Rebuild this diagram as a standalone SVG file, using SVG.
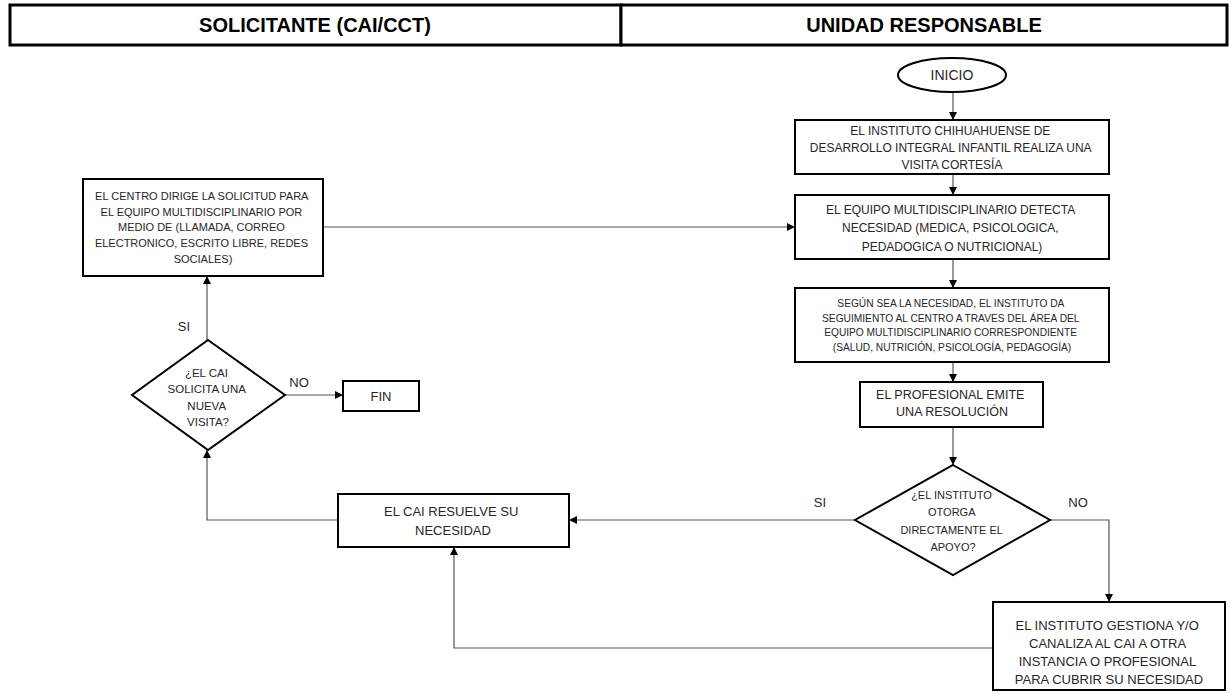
<svg xmlns="http://www.w3.org/2000/svg" width="1231" height="694" viewBox="0 0 1231 694">
  <defs>
    <marker id="arrow" viewBox="0 0 10 10" refX="10" refY="5" markerWidth="8" markerHeight="8" markerUnits="userSpaceOnUse" orient="auto">
      <path d="M0,0 L10,5 L0,10 z" fill="#000"/>
    </marker>
    <style>
      .lane { fill: #fff; stroke: #000; stroke-width: 3; }
      .lane-title { font-family: "Liberation Sans", Arial, sans-serif; font-weight: bold; font-size: 20px; fill: #000; text-anchor: middle; }
      .box { fill: #fff; stroke: #000; stroke-width: 2; }
      .txt { font-family: "Liberation Sans", Arial, sans-serif; fill: #262626; text-anchor: middle; }
      .edge { fill: none; stroke: #555; stroke-width: 1.2; }
      .lbl { font-family: "Liberation Sans", Arial, sans-serif; font-size: 13px; fill: #262626; text-anchor: middle; }
    </style>
  </defs>
  <rect width="1231" height="694" fill="#fff"/>

  <!-- swimlane headers -->
  <g id="lane-solicitante">
    <rect class="lane" x="10" y="5" width="611" height="40"/>
    <text class="lane-title" x="315" y="32">SOLICITANTE (CAI/CCT)</text>
  </g>
  <g id="lane-unidad">
    <rect class="lane" x="621" y="5" width="606" height="40"/>
    <text class="lane-title" x="924" y="32">UNIDAD RESPONSABLE</text>
  </g>

  <!-- connectors -->
  <g id="connectors">
    <path class="edge" d="M953,92 V120" marker-end="url(#arrow)"/>
    <path class="edge" d="M953,174 V195" marker-end="url(#arrow)"/>
    <path class="edge" d="M953,259 V288" marker-end="url(#arrow)"/>
    <path class="edge" d="M953,362 V382" marker-end="url(#arrow)"/>
    <path class="edge" d="M953,427 V465" marker-end="url(#arrow)"/>
    <path class="edge" d="M855,520 H569" marker-end="url(#arrow)"/>
    <path class="edge" d="M1050,520 H1109 V602" marker-end="url(#arrow)"/>
    <path class="edge" d="M993,648 H454 V547" marker-end="url(#arrow)"/>
    <path class="edge" d="M338,520 H207 V450" marker-end="url(#arrow)"/>
    <path class="edge" d="M207,340 V276" marker-end="url(#arrow)"/>
    <path class="edge" d="M285,395 H343" marker-end="url(#arrow)"/>
    <path class="edge" d="M323,227 H795" marker-end="url(#arrow)"/>
    <text class="lbl" x="820" y="507">SI</text>
    <text class="lbl" x="1078" y="507">NO</text>
    <text class="lbl" x="184" y="331">SI</text>
    <text class="lbl" x="299" y="387">NO</text>
  </g>

  <!-- nodes -->
  <g id="inicio">
    <ellipse class="box" cx="952" cy="75" rx="54" ry="17"/>
    <text class="txt" x="952" y="80" font-size="14">INICIO</text>
  </g>

  <g id="visita-cortesia">
    <rect class="box" x="795" y="120" width="314" height="54"/>
    <text class="txt" font-size="12">
      <tspan x="952" y="135">EL INSTITUTO CHIHUAHUENSE DE</tspan>
      <tspan x="952" y="152">DESARROLLO INTEGRAL INFANTIL REALIZA UNA</tspan>
      <tspan x="952" y="169">VISITA CORTESÍA</tspan>
    </text>
  </g>

  <g id="detecta-necesidad">
    <rect class="box" x="795" y="195" width="314" height="64"/>
    <text class="txt" font-size="12">
      <tspan x="952" y="214">EL EQUIPO MULTIDISCIPLINARIO DETECTA</tspan>
      <tspan x="952" y="232">NECESIDAD  (MEDICA, PSICOLOGICA,</tspan>
      <tspan x="952" y="251">PEDADOGICA O NUTRICIONAL)</tspan>
    </text>
  </g>

  <g id="seguimiento">
    <rect class="box" x="795" y="288" width="314" height="74"/>
    <text class="txt" font-size="10.2">
      <tspan x="952" y="307">SEGÚN SEA LA NECESIDAD,  EL INSTITUTO DA</tspan>
      <tspan x="952" y="322">SEGUIMIENTO AL CENTRO A TRAVES DEL ÁREA DEL</tspan>
      <tspan x="952" y="336">EQUIPO MULTIDISCIPLINARIO CORRESPONDIENTE</tspan>
      <tspan x="952" y="351">(SALUD, NUTRICIÓN, PSICOLOGÍA, PEDAGOGÍA)</tspan>
    </text>
  </g>

  <g id="resolucion">
    <rect class="box" x="860" y="382" width="183" height="45"/>
    <text class="txt" font-size="12.5">
      <tspan x="952" y="399">EL PROFESIONAL EMITE</tspan>
      <tspan x="952" y="416">UNA RESOLUCIÓN</tspan>
    </text>
  </g>

  <g id="otorga-apoyo">
    <polygon class="box" points="953,465 1050,520 953,575 855,520"/>
    <text class="txt" font-size="11">
      <tspan x="953" y="499">¿EL INSTITUTO</tspan>
      <tspan x="953" y="516">OTORGA</tspan>
      <tspan x="953" y="534">DIRECTAMENTE EL</tspan>
      <tspan x="953" y="551">APOYO?</tspan>
    </text>
  </g>

  <g id="gestiona">
    <rect class="box" x="993" y="602" width="232" height="88"/>
    <text class="txt" font-size="13">
      <tspan x="1109" y="630">EL INSTITUTO GESTIONA  Y/O</tspan>
      <tspan x="1109" y="648">CANALIZA AL CAI A OTRA</tspan>
      <tspan x="1109" y="666">INSTANCIA O PROFESIONAL</tspan>
      <tspan x="1109" y="684">PARA CUBRIR SU NECESIDAD</tspan>
    </text>
  </g>

  <g id="resuelve">
    <rect class="box" x="338" y="494" width="231" height="53"/>
    <text class="txt" font-size="13">
      <tspan x="453" y="516">EL CAI RESUELVE SU</tspan>
      <tspan x="453" y="535">NECESIDAD</tspan>
    </text>
  </g>

  <g id="nueva-visita">
    <polygon class="box" points="208,340 285,395 208,450 132,395"/>
    <text class="txt" font-size="11.5">
      <tspan x="208" y="377">¿EL CAI</tspan>
      <tspan x="208" y="393">SOLICITA UNA</tspan>
      <tspan x="208" y="410">NUEVA</tspan>
      <tspan x="208" y="426">VISITA?</tspan>
    </text>
  </g>

  <g id="fin">
    <rect class="box" x="343" y="381" width="76" height="30"/>
    <text class="txt" x="381" y="401" font-size="13">FIN</text>
  </g>

  <g id="solicitud">
    <rect class="box" x="83" y="179" width="240" height="97"/>
    <text class="txt" font-size="11">
      <tspan x="203" y="200">EL CENTRO DIRIGE LA SOLICITUD PARA</tspan>
      <tspan x="203" y="216">EL EQUIPO MULTIDISCIPLINARIO POR</tspan>
      <tspan x="203" y="231">MEDIO DE (LLAMADA, CORREO</tspan>
      <tspan x="203" y="247">ELECTRONICO, ESCRITO LIBRE, REDES</tspan>
      <tspan x="203" y="263">SOCIALES)</tspan>
    </text>
  </g>
</svg>
